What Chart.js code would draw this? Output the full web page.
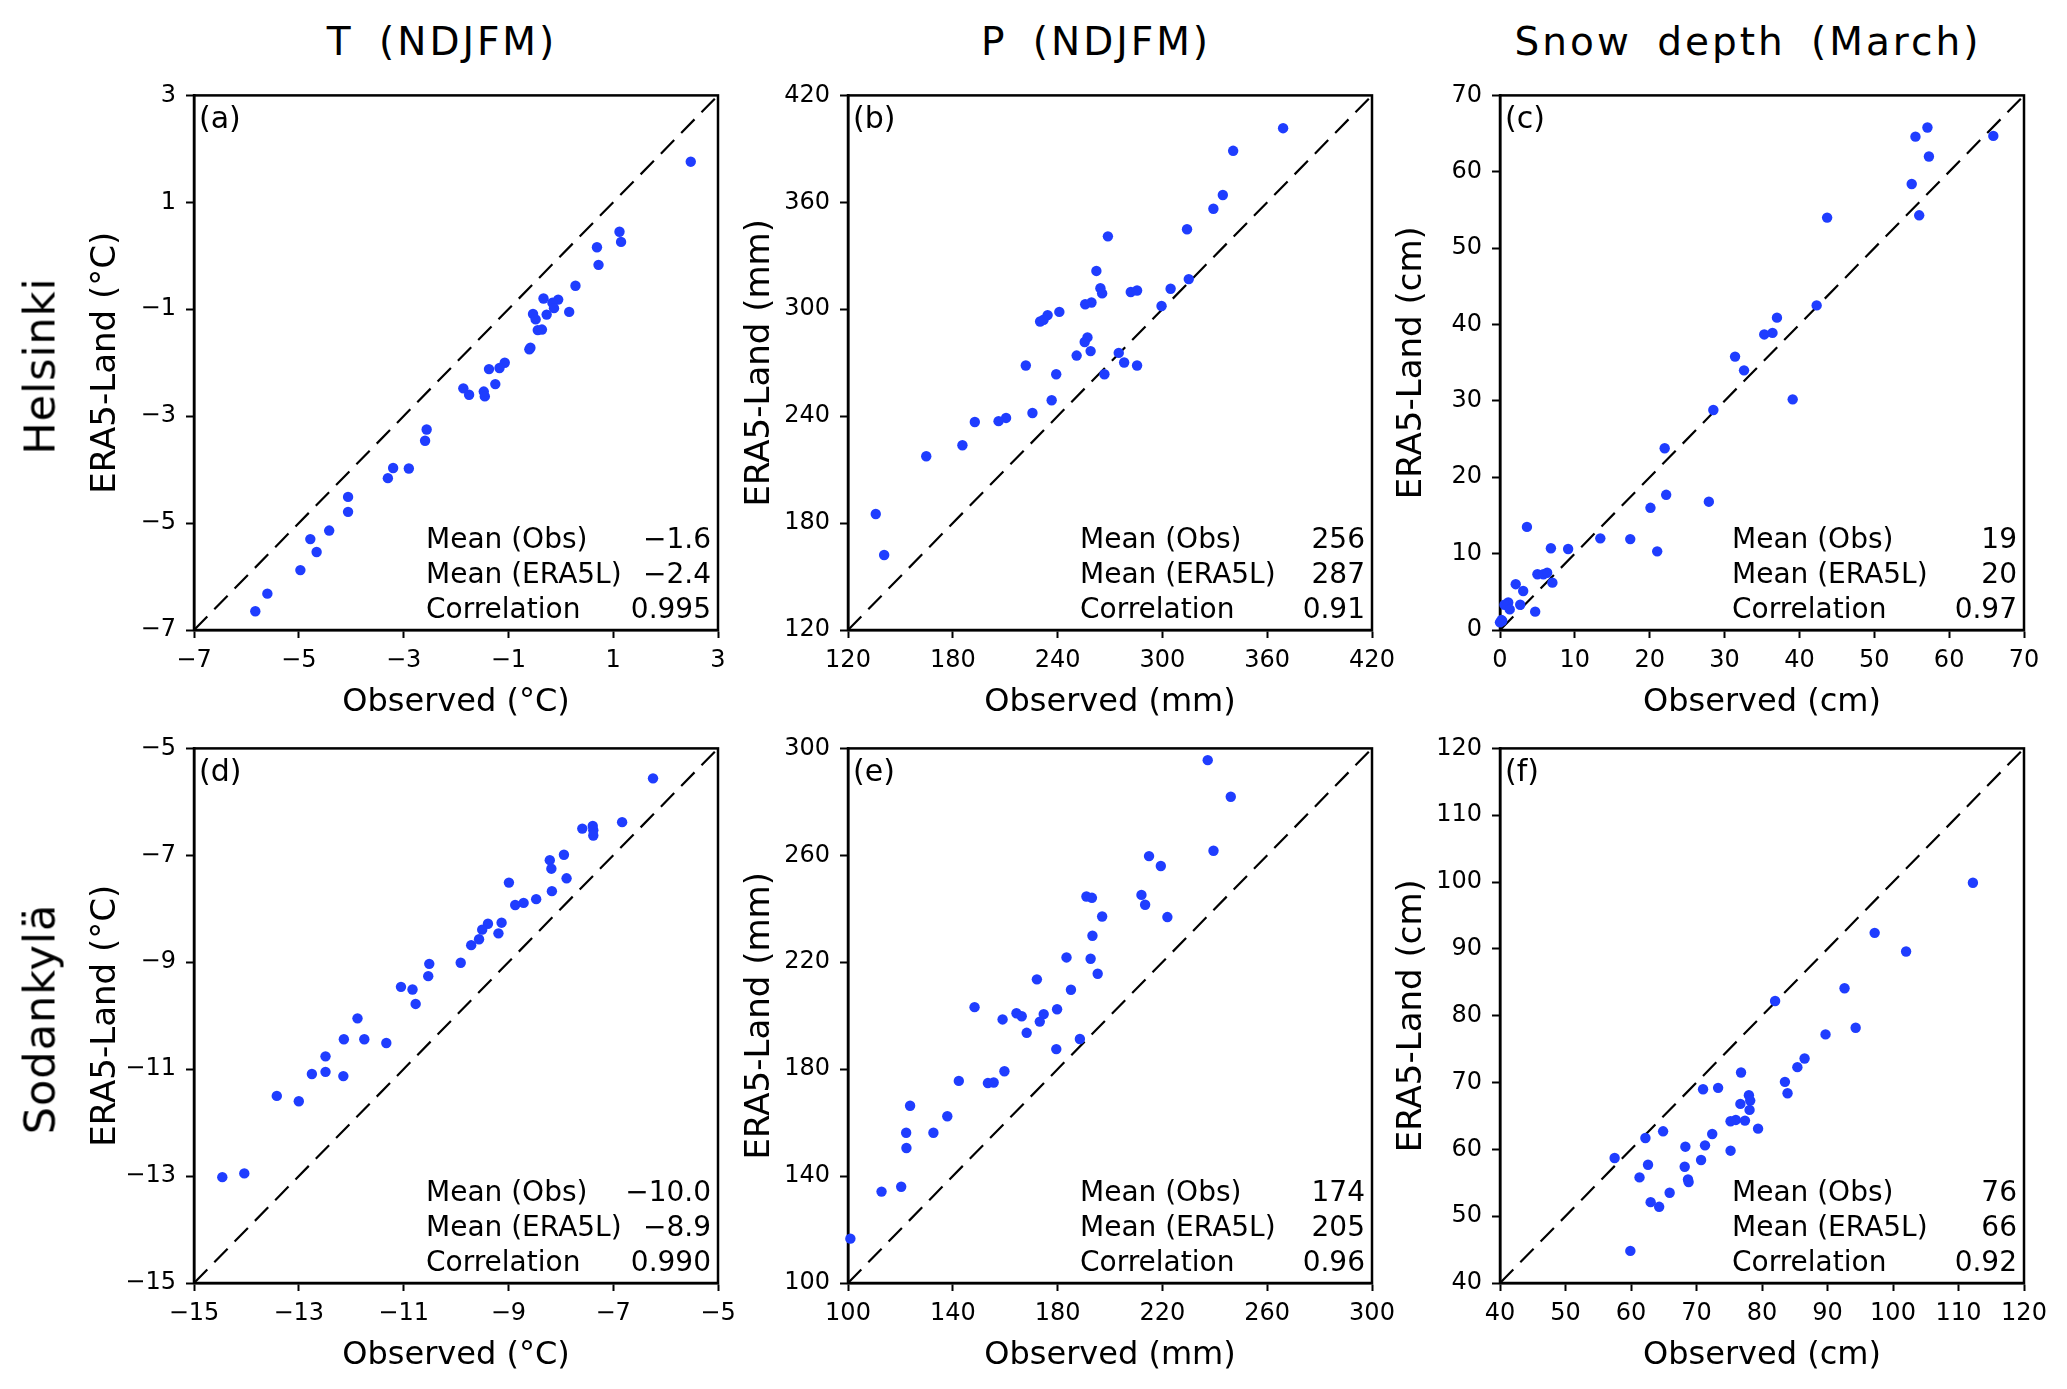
<!DOCTYPE html>
<html>
<head>
<meta charset="utf-8">
<script src="https://cdn.jsdelivr.net/npm/chart.js"></script>
<style>
  html, body { margin: 0; padding: 0; background: #ffffff; }
  body { width: 2067px; height: 1389px; position: relative; overflow: hidden;
         font-family: "DejaVu Sans", sans-serif; color: #000; }
  canvas { position: absolute; }
  .txt { position: absolute; white-space: nowrap; line-height: 1; }
  .coltitle { font-size: 39px; letter-spacing: 3px; word-spacing: 10px; transform: translate(-50%, -50%); }
  .rowlabel { font-size: 43px; letter-spacing: 1px; transform: translate(-50%, -50%) rotate(-90deg); }
  .letter { font-size: 30px; transform: translateY(-50%); }
  .stat { position: absolute; display: flex; justify-content: space-between; font-size: 28px;
          line-height: 28px; height: 28px; white-space: nowrap; }
</style>
</head>
<body>
<script>
// ---------------- Text ----------------
const columnTitles = ["T (NDJFM)", "P (NDJFM)", "Snow depth (March)"];
const rowLabels = ["Helsinki", "Sodankylä"];
const panelLetters = ["(a)", "(b)", "(c)", "(d)", "(e)", "(f)"];
const xTitles = ["Observed (°C)", "Observed (mm)", "Observed (cm)"];
const yTitles = ["ERA5-Land (°C)", "ERA5-Land (mm)", "ERA5-Land (cm)"];
const statLabels = ["Mean (Obs)", "Mean (ERA5L)", "Correlation"];
const statsA = ["−1.6", "−2.4", "0.995"];
const statsB = ["256", "287", "0.91"];
const statsC = ["19", "20", "0.97"];
const statsD = ["−10.0", "−8.9", "0.990"];
const statsE = ["174", "205", "0.96"];
const statsF = ["76", "66", "0.92"];

// ---------------- Axis ranges & ticks ----------------
const rangeA = [-7, 3];     const ticksA = [-7, -5, -3, -1, 1, 3];
const rangeB = [120, 420];  const ticksB = [120, 180, 240, 300, 360, 420];
const rangeC = [0, 70];     const ticksC = [0, 10, 20, 30, 40, 50, 60, 70];
const rangeD = [-15, -5];   const ticksD = [-15, -13, -11, -9, -7, -5];
const rangeE = [100, 300];  const ticksE = [100, 140, 180, 220, 260, 300];
const rangeF = [40, 120];   const ticksF = [40, 50, 60, 70, 80, 90, 100, 110, 120];

// ---------------- Data: Helsinki ----------------
const tObsHel = [2.48, 1.12, 1.15, 0.69, 0.72, 0.28, -0.33, -0.05, -0.16, -0.13, 0.16, -0.53, -0.48, -0.27,
  -0.44, -0.36, -0.60, -0.58, -1.07, -1.17, -1.37, -1.25, -1.86, -1.75, -1.47, -1.45, -2.56, -2.59, -2.90,
  -3.20, -3.30, -4.06, -4.06, -4.42, -4.78, -4.66, -4.97, -5.60, -5.83];
const tEraHel = [1.76, 0.45, 0.26, 0.16, -0.17, -0.56, -0.80, -0.82, -0.88, -0.98, -1.05, -1.09, -1.19, -1.10,
  -1.39, -1.38, -1.75, -1.72, -2.00, -2.10, -2.12, -2.40, -2.48, -2.60, -2.54, -2.63, -3.25, -3.46, -3.98,
  -3.97, -4.16, -4.51, -4.79, -5.14, -5.30, -5.54, -5.88, -6.32, -6.65];

const pObsHel = [369.1, 340.5, 334.6, 329.2, 314.1, 315.1, 304.7, 299.5, 268.8, 262.2, 264.5, 265.5, 259.4,
  255.8, 281.9, 285.5, 257.1, 255.5, 258.9, 250.9, 275.0, 278.1, 285.5, 266.8, 241.0, 234.3, 232.0, 230.0,
  221.8, 239.2, 236.6, 225.6, 210.5, 206.2, 192.6, 185.5, 164.8, 135.9, 140.7];
const pEraHel = [401.6, 388.9, 364.1, 356.4, 344.9, 316.9, 311.5, 301.8, 340.9, 321.5, 311.8, 308.9, 303.8,
  302.8, 309.7, 310.5, 284.2, 281.6, 276.5, 274.0, 275.5, 270.1, 268.4, 263.5, 298.5, 296.7, 294.1, 293.1,
  268.4, 263.5, 248.9, 241.8, 239.0, 237.2, 236.7, 223.7, 217.5, 185.1, 162.1];

const sObsHel = [65.9, 57.1, 55.5, 57.3, 55.0, 56.0, 43.7, 42.3, 37.0, 36.4, 35.3, 31.4, 32.6, 39.1, 28.5,
  22.0, 22.2, 27.9, 20.1, 13.4, 17.4, 21.0, 3.6, 6.8, 9.1, 5.0, 5.8, 6.3, 7.0, 2.1, 3.1, 1.1, 0.6, 2.7,
  1.3, 4.7, 0.2, 0.0, 0.3];
const sEraHel = [64.7, 65.8, 64.6, 62.0, 58.4, 54.3, 54.0, 42.5, 40.9, 38.9, 38.7, 35.8, 34.0, 30.2, 28.8,
  23.8, 17.7, 16.8, 16.0, 12.0, 11.9, 10.3, 13.5, 10.7, 10.6, 7.3, 7.3, 7.5, 6.2, 6.0, 5.1, 3.6, 3.3, 3.3,
  2.7, 2.4, 1.3, 1.0, 1.2];

// ---------------- Data: Sodankylä ----------------
const tObsSod = [-6.24, -6.83, -7.59, -7.39, -7.38, -7.38, -8.21, -7.94, -8.18, -7.89, -8.99, -8.17, -8.47,
  -8.71, -8.87, -9.39, -9.13, -9.50, -9.19, -9.56, -9.71, -9.91, -10.51, -10.53, -11.05, -10.83, -10.77,
  -11.88, -12.14, -11.75, -11.33, -12.49, -12.75, -12.49, -12.15, -13.42, -13.00, -14.46, -14.04];
const tEraSod = [-5.56, -6.38, -6.50, -6.45, -6.53, -6.63, -7.09, -6.99, -7.25, -7.43, -7.51, -7.67, -7.82,
  -7.89, -7.93, -8.28, -8.26, -8.39, -8.46, -8.57, -8.68, -9.01, -9.03, -9.26, -9.46, -9.51, -9.78,
  -10.05, -10.44, -10.44, -10.51, -10.76, -11.09, -11.05, -11.13, -11.50, -11.60, -13.02, -12.95];

const pObsSod = [237.3, 246.1, 239.5, 214.9, 219.4, 212.0, 213.4, 221.9, 191.0, 193.1, 197.0, 193.3, 183.4,
  192.6, 195.3, 172.1, 185.1, 148.3, 179.8, 164.3, 166.3, 174.7, 159.0, 173.2, 168.2, 188.5, 179.5, 159.7,
  142.3, 153.4, 155.6, 123.7, 137.9, 122.2, 132.6, 122.3, 120.3, 112.8, 100.9];
const pEraSod = [295.6, 281.9, 261.7, 259.7, 256.0, 245.2, 241.5, 236.9, 244.6, 244.1, 237.1, 229.9, 221.8,
  221.3, 215.7, 213.6, 209.7, 203.2, 202.4, 200.9, 199.8, 200.6, 198.6, 197.8, 193.6, 191.3, 187.5, 179.2,
  175.6, 174.8, 175.0, 166.3, 162.4, 156.2, 156.2, 150.5, 136.0, 134.2, 116.6];

const sObsSod = [112.2, 97.2, 102.0, 92.6, 82.0, 94.3, 89.7, 86.5, 85.4, 76.8, 83.5, 83.9, 71.0, 73.3, 78.0,
  78.2, 76.7, 78.1, 76.0, 75.2, 77.4, 79.4, 64.9, 72.4, 62.2, 68.3, 71.3, 75.2, 57.5, 70.7, 62.6, 68.2,
  61.3, 68.7, 68.8, 65.9, 63.0, 64.3, 59.9];
const sEraSod = [99.9, 92.4, 89.6, 84.1, 82.2, 78.2, 77.2, 73.6, 72.3, 71.5, 70.1, 68.4, 69.0, 69.2, 68.1,
  67.3, 66.8, 65.9, 64.4, 64.2, 64.3, 63.1, 62.7, 62.3, 61.7, 60.4, 60.6, 59.8, 58.7, 58.4, 57.7, 57.4,
  55.8, 55.5, 55.1, 53.5, 52.1, 51.4, 44.8];

// ---------------- Layout ----------------
const PW = 524, PH = 539;            // plot-area size
const colLeft = [194, 848, 1500];
const rowTop = [91, 744];
const YAXW = 130, XAXH = 100, PADT = 20, PADR = 40;
const dotColor = '#1f3dff';
const FONT = '"DejaVu Sans", sans-serif';

const panels = [
  {r:0, c:0, xs:tObsHel, ys:tEraHel, range:rangeA, ticks:ticksA, stats:statsA},
  {r:0, c:1, xs:pObsHel, ys:pEraHel, range:rangeB, ticks:ticksB, stats:statsB},
  {r:0, c:2, xs:sObsHel, ys:sEraHel, range:rangeC, ticks:ticksC, stats:statsC},
  {r:1, c:0, xs:tObsSod, ys:tEraSod, range:rangeD, ticks:ticksD, stats:statsD},
  {r:1, c:1, xs:pObsSod, ys:pEraSod, range:rangeE, ticks:ticksE, stats:statsE},
  {r:1, c:2, xs:sObsSod, ys:sEraSod, range:rangeF, ticks:ticksF, stats:statsF},
];

function addText(cls, text, left, top) {
  const d = document.createElement('div');
  d.className = 'txt ' + cls;
  d.textContent = text;
  d.style.left = left + 'px';
  d.style.top = top + 'px';
  document.body.appendChild(d);
  return d;
}

const fmtTick = v => String(v).replace('-', '\u2212');

const boxPlugin = {
  id: 'box',
  beforeDatasetsDraw(chart) {
    const a = chart.chartArea, ctx = chart.ctx;
    ctx.save();
    ctx.strokeStyle = '#000';
    ctx.lineWidth = 2.5;
    ctx.strokeRect(a.left, a.top, a.right - a.left, a.bottom - a.top);
    ctx.restore();
  }
};

panels.forEach((p, i) => {
  const L = colLeft[p.c], T = rowTop[p.r];
  const cv = document.createElement('canvas');
  const W = YAXW + PW + PADR, H = PADT + PH + XAXH;
  cv.width = W; cv.height = H;
  cv.style.left = (L - YAXW) + 'px';
  cv.style.top = (T - PADT) + 'px';
  cv.style.width = W + 'px'; cv.style.height = H + 'px';
  document.body.appendChild(cv);

  const pts = p.xs.map((x, k) => ({x: x, y: p.ys[k]}));
  const diag = [{x: p.range[0], y: p.range[0]}, {x: p.range[1], y: p.range[1]}];
  const tickObjs = () => p.ticks.map(v => ({value: v}));

  const axisCommon = {
    type: 'linear',
    min: p.range[0], max: p.range[1],
    afterBuildTicks: s => { s.ticks = tickObjs(); },
    border: {display: true, color: '#000', width: 2.5},
    grid: {display: true, drawOnChartArea: false, drawTicks: true, tickLength: 8,
           tickWidth: 2, tickColor: '#000'},
  };

  new Chart(cv, {
    type: 'scatter',
    data: {
      datasets: [
        {data: pts, backgroundColor: dotColor, borderColor: dotColor, borderWidth: 0,
         pointRadius: 5.2, pointHoverRadius: 5.2, clip: false},
        {type: 'line', data: diag, borderColor: '#000', borderWidth: 2.2, borderDash: [19, 10],
         pointRadius: 0, fill: false, tension: 0}
      ]
    },
    options: {
      responsive: false,
      animation: false,
      devicePixelRatio: 1,
      layout: {padding: {top: PADT, right: PADR, left: 0, bottom: 0}},
      plugins: {legend: {display: false}, tooltip: {enabled: false}},
      scales: {
        x: Object.assign({}, axisCommon, {
          position: 'bottom',
          afterFit: s => { s.height = XAXH; },
          ticks: {color: '#000', font: {family: FONT, size: 24}, padding: 8,
                  maxRotation: 0, autoSkip: false, callback: fmtTick},
          title: {display: true, text: xTitles[p.c], color: '#000',
                  font: {family: FONT, size: 32}, padding: {top: 0, bottom: 8}}
        }),
        y: Object.assign({}, axisCommon, {
          position: 'left',
          afterFit: s => { s.width = YAXW; },
          ticks: {color: '#000', font: {family: FONT, size: 24}, padding: 10,
                  autoSkip: false, callback: fmtTick},
          title: {display: true, text: yTitles[p.c], color: '#000',
                  font: {family: FONT, size: 34}, padding: {top: 22, bottom: 0}}
        })
      }
    },
    plugins: [boxPlugin]
  });

  // panel letter
  addText('letter', panelLetters[i], L + 5, T + 27);
  // statistics block
  const yc = [448, 483, 518];
  statLabels.forEach((lab, k) => {
    const d = document.createElement('div');
    d.className = 'stat';
    d.style.left = (L + 232) + 'px';
    d.style.width = '285px';
    d.style.top = (T + yc[k] - 14) + 'px';
    const a = document.createElement('span'); a.textContent = lab;
    const b = document.createElement('span'); b.textContent = p.stats[k];
    d.appendChild(a); d.appendChild(b);
    document.body.appendChild(d);
  });
});

// column titles
columnTitles.forEach((t, c) => addText('coltitle', t, colLeft[c] + PW / 2 - 14, 41));
// row labels
rowLabels.forEach((t, r) => addText('rowlabel', t, 40, rowTop[r] + PH / 2 + 5));
</script>
</body>
</html>
